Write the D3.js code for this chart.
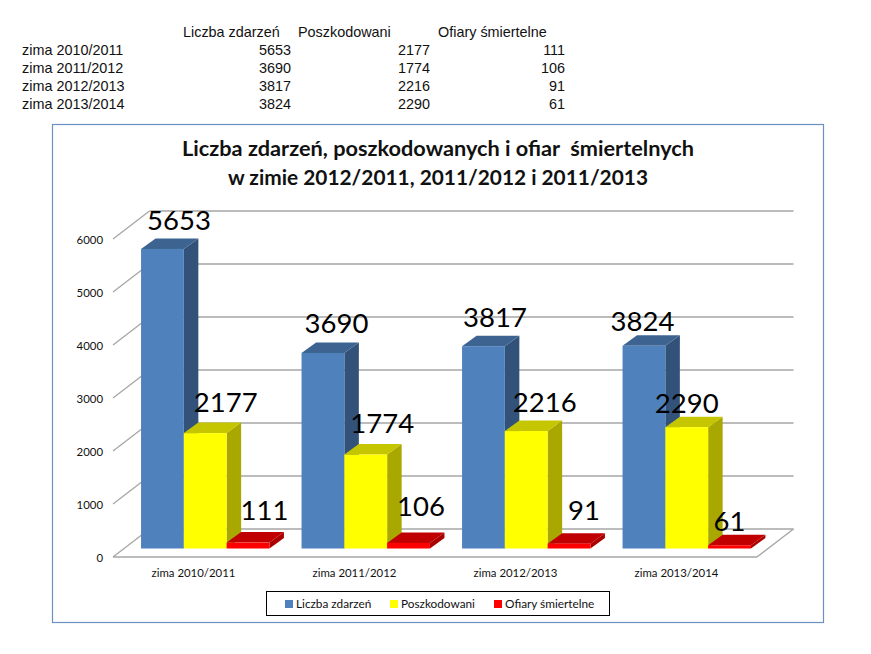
<!DOCTYPE html>
<html>
<head>
<meta charset="utf-8">
<script src="https://cdn.jsdelivr.net/npm/d3@7"></script>
<style>
  body { margin: 0; background: #fff; }
  svg { display: block; }
  .table text { font-family: "Liberation Sans", sans-serif; font-size: 14.4px; fill: #111; }
  .axis text { font-family: Lato, sans-serif; font-size: 11.4px; fill: #111; }
  .axis path, .axis line { display: none; }
  .title { font-family: Lato, sans-serif; font-size: 21.5px; font-weight: bold; fill: #111; text-anchor: middle; white-space: pre; }
  .value { font-family: Lato, sans-serif; font-size: 27.5px; fill: #000; text-anchor: middle; }
  .legend text { font-family: Lato, sans-serif; font-size: 11.8px; fill: #111; }
  .grid { stroke: #a6a6a6; stroke-width: 1.3; fill: none; }
</style>
</head>
<body>
<svg id="chart" width="871" height="654"></svg>
<script>
const categories = ['zima 2010/2011', 'zima 2011/2012', 'zima 2012/2013', 'zima 2013/2014'];
const seriesNames = ['Liczba zdarzeń', 'Poszkodowani', 'Ofiary śmiertelne'];
const zdarzenia = [5653, 3690, 3817, 3824];
const poszkodowani = [2177, 1774, 2216, 2290];
const ofiary = [111, 106, 91, 61];
const seriesValues = [zdarzenia, poszkodowani, ofiary];
const yTicks = [0, 1000, 2000, 3000, 4000, 5000, 6000];
const titleLines = ['Liczba zdarzeń, poszkodowanych i ofiar  śmiertelnych', 'w zimie 2012/2011, 2011/2012 i 2011/2013'];

const colors = [
  {front: '#4f81bd', side: '#32527a', top: '#3d6491'},
  {front: '#ffff00', side: '#a8a800', top: '#c6c600'},
  {front: '#ff0000', side: '#aa0000', top: '#c00000'}
];

// the value labels were moved by hand in the original, one nudge per label
const labelNudgeX = [[16.5, 13.5, 11.5, -1.5], [20.5, 16.5, 18.5, 0], [16.5, 12.5, 15, 0]];
const labelNudgeY = [[0, -1, -1, 4], [-3, -3, -1, 4], [-4, -8, -5, 4]];
const titleWidths = [512, 420];

const svg = d3.select('#chart');

// table above the chart
const table = svg.append('g').attr('class', 'table');
const headerX = [183, 298, 438];
const colRight = [291, 430, 565];
const rowY = d3.scalePoint().domain(d3.range(4)).range([55, 108.5]);

table.selectAll('text.head')
    .data(seriesNames)
  .join('text')
    .attr('class', 'head')
    .attr('x', (d, i) => headerX[i])
    .attr('y', 37)
    .text(d => d);

categories.forEach((c, r) => {
  table.append('text').attr('x', 22).attr('y', rowY(r)).text(c);
  seriesValues.forEach((vals, s) => {
    table.append('text')
      .attr('x', colRight[s])
      .attr('y', rowY(r))
      .attr('text-anchor', 'end')
      .text(vals[r]);
  });
});

// chart frame
svg.append('rect')
  .attr('x', 52.5).attr('y', 124.5)
  .attr('width', 771).attr('height', 498)
  .attr('fill', '#fff')
  .attr('stroke', '#6a90c4')
  .attr('stroke-width', 1.2);

svg.append('g').selectAll('text')
    .data(titleLines)
  .join('text')
    .attr('class', 'title')
    .attr('x', 438)
    .attr('y', (d, i) => 156 + i * 29)
    .attr('textLength', (d, i) => titleWidths[i])
    .attr('lengthAdjust', 'spacingAndGlyphs')
    .text(d => d);

// 3d projection: wall sits behind the axis plane, bars in between
const wall = {dx: 36.5, dy: -28};
const depth = {dx: 14.5, dy: -10.5};
const barShift = {dx: 12, dy: -8.5};

const yFront = d3.scaleLinear().domain([0, 6000]).range([557, 239]);
const xFront = d3.scaleBand().domain(categories).range([113, 757]);
const xBars = d3.scaleBand().domain(categories)
  .range([113 + barShift.dx, 755 + barShift.dx])
  .paddingInner(0.2).paddingOuter(0.1);
const xSeries = d3.scaleBand().domain(d3.range(3)).range([0, xBars.bandwidth()]);

// grid on the back wall and the left ticks
const grid = svg.append('g');
yTicks.forEach(t => {
  const y = yFront(t);
  grid.append('line').attr('class', 'grid')
    .attr('x1', xFront.range()[0]).attr('y1', y)
    .attr('x2', xFront.range()[0] + wall.dx).attr('y2', y + wall.dy);
  grid.append('line').attr('class', 'grid')
    .attr('x1', xFront.range()[0] + wall.dx).attr('y1', y + wall.dy)
    .attr('x2', xFront.range()[1] + wall.dx).attr('y2', y + wall.dy);
});
grid.append('line').attr('class', 'grid')
  .attr('x1', xFront.range()[0]).attr('y1', yFront(0))
  .attr('x2', xFront.range()[1]).attr('y2', yFront(0));
grid.append('line').attr('class', 'grid')
  .attr('x1', xFront.range()[1]).attr('y1', yFront(0))
  .attr('x2', xFront.range()[1] + wall.dx).attr('y2', yFront(0) + wall.dy);

svg.append('g')
  .attr('class', 'axis')
  .attr('transform', 'translate(105, 1)')
  .call(d3.axisLeft(yFront).tickValues(yTicks).tickSize(0).tickPadding(2).tickFormat(d3.format('d')));

svg.append('g')
  .attr('class', 'axis')
  .attr('transform', 'translate(0, 566)')
  .call(d3.axisBottom(xFront).tickSize(0).tickPadding(3));

// bars, drawn group by group so nearer ones overlap correctly
const bars = svg.append('g');
const labels = svg.append('g');

categories.forEach((c, ci) => {
  seriesValues.forEach((vals, s) => {
    const v = vals[ci];
    const x0 = xBars(c) + xSeries(s);
    const w = xSeries.bandwidth();
    const yb = yFront(0) + barShift.dy;
    const yt = yFront(v) + barShift.dy;
    const g = bars.append('g');
    const pts = a => a.map(p => p.join(',')).join(' ');
    g.append('polygon')
      .attr('points', pts([[x0 + w, yb], [x0 + w + depth.dx, yb + depth.dy], [x0 + w + depth.dx, yt + depth.dy], [x0 + w, yt]]))
      .attr('fill', colors[s].side);
    g.append('polygon')
      .attr('points', pts([[x0, yt], [x0 + w, yt], [x0 + w + depth.dx, yt + depth.dy], [x0 + depth.dx, yt + depth.dy]]))
      .attr('fill', colors[s].top);
    g.append('rect')
      .attr('x', x0).attr('y', yt)
      .attr('width', w).attr('height', yb - yt)
      .attr('fill', colors[s].front);
    labels.append('text')
      .attr('class', 'value')
      .attr('x', x0 + w / 2 + labelNudgeX[s][ci])
      .attr('y', yt + depth.dy - 8 + labelNudgeY[s][ci])
      .text(v);
  });
});

// legend
const legend = svg.append('g').attr('class', 'legend');
legend.append('rect')
  .attr('x', 266.5).attr('y', 591.5)
  .attr('width', 343).attr('height', 24)
  .attr('fill', '#fff').attr('stroke', '#000');
const legendX = [285, 390, 494];
seriesNames.forEach((n, i) => {
  legend.append('rect')
    .attr('x', legendX[i]).attr('y', 600)
    .attr('width', 8).attr('height', 8)
    .attr('fill', colors[i].front);
  legend.append('text')
    .attr('x', legendX[i] + 11).attr('y', 608)
    .text(n);
});
</script>
</body>
</html>
